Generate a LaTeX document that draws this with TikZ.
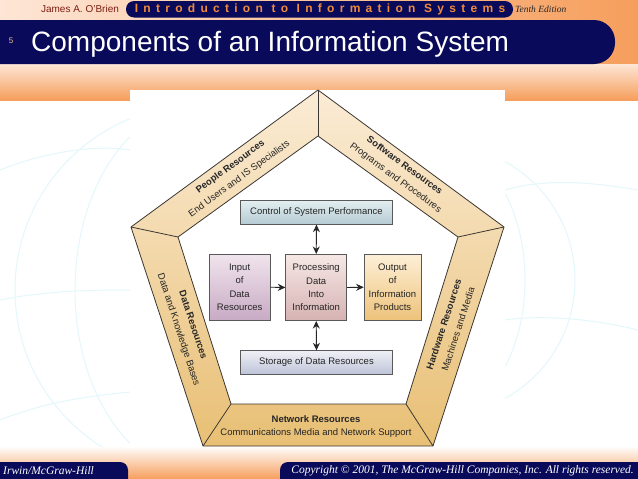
\documentclass[tikz,border=0pt]{standalone}
\usepackage{fontspec}
\setmainfont{Liberation Sans}
\newfontfamily\serifit{Liberation Serif}
\usetikzlibrary{arrows.meta}
\definecolor{navy}{RGB}{10,10,90}
\definecolor{orangeA}{RGB}{246,158,92}
\definecolor{peachA}{RGB}{253,230,214}
\definecolor{pilltext}{RGB}{240,138,60}
\definecolor{maroon}{RGB}{125,30,20}
\definecolor{numcol}{RGB}{245,195,150}
\definecolor{globe}{RGB}{228,247,251}
\definecolor{ringtop}{RGB}{251,236,214}
\definecolor{ringbot}{RGB}{232,191,116}
\definecolor{ringline}{RGB}{60,55,50}
\definecolor{ctrlT}{RGB}{227,238,240}
\definecolor{ctrlB}{RGB}{180,203,211}
\definecolor{inT}{RGB}{240,228,237}
\definecolor{inB}{RGB}{200,170,196}
\definecolor{prT}{RGB}{246,232,230}
\definecolor{prB}{RGB}{214,178,178}
\definecolor{outT}{RGB}{253,240,215}
\definecolor{outB}{RGB}{238,194,122}
\definecolor{stT}{RGB}{239,241,246}
\definecolor{stB}{RGB}{190,196,216}
\tikzset{
  procbox/.style={draw=black!65, line width=0.7pt, inner sep=0pt, align=center,
    font=\fontsize{9.5}{13.3}\selectfont, text=black!85},
  ringtext/.style={align=center, font=\fontsize{9.5}{15}\selectfont, text=black!85, inner sep=0pt},
  flow/.style={-{Stealth[length=7.5pt,width=7pt]}, line width=0.9pt, black!85},
  dflow/.style={{Stealth[length=7.5pt,width=7pt]}-{Stealth[length=7.5pt,width=7pt]}, line width=0.9pt, black!85},
  ringedge/.style={draw=ringline, line width=0.8pt, line join=round},
  globeline/.style={draw=globe, line width=1pt}
}
\begin{document}
\begin{tikzpicture}[x=1pt,y=-1pt]
\useasboundingbox (0,0) rectangle (638,479);
\fill[white] (0,0) rectangle (638,479);
% top background
\shade[left color=peachA, right color=orangeA] (0,0) rectangle (638,64);
\shade[top color=peachA, bottom color=orangeA] (0,64) rectangle (638,100);
% bottom background
\shade[top color=white, bottom color=orangeA] (0,446) rectangle (638,479);
% globe decoration
\begin{scope}
  \clip (0,100) rectangle (130,446);
  \draw[globeline] (200,290) circle[radius=185pt];
  \draw[globeline] (200,290) ellipse[x radius=125pt, y radius=185pt];
  \draw[globeline] (0,170) .. controls (50,150) and (100,145) .. (130,150);
  \draw[globeline] (0,300) .. controls (50,290) and (100,290) .. (130,290);
  \draw[globeline] (0,420) .. controls (50,400) and (100,395) .. (130,392);
\end{scope}
\begin{scope}
  \clip (505,100) rectangle (638,446);
  \draw[globeline] (440,280) circle[radius=135pt];
  \draw[globeline] (440,280) ellipse[x radius=85pt, y radius=135pt];
  \draw[globeline] (505,190) .. controls (540,180) and (580,180) .. (638,190);
  \draw[globeline] (505,320) .. controls (540,315) and (590,318) .. (638,330);
\end{scope}
% picture area
\fill[white] (130,90) rectangle (505,447);
% header
\node[anchor=center, font=\fontsize{10}{12}\selectfont, text=maroon, inner sep=0pt] (author) at (80,9) {James A. O'Brien};
\fill[navy, rounded corners=8pt] (126,1) rectangle (513,17.5);
\node[anchor=center, font=\fontsize{12}{14}\selectfont\bfseries\addfontfeature{LetterSpace=44}, text=pilltext, inner sep=0pt] (book) at (320,9.5) {Introduction to Information Systems};
\node[anchor=west, font=\serifit\itshape\fontsize{9.5}{11}\selectfont, text=black!85, inner sep=0pt] (edition) at (515,9) {Tenth Edition};
\fill[navy, rounded corners=21pt] (-40,20) rectangle (615,64);
\node[anchor=center, font=\fontsize{8}{9}\selectfont, text=numcol, inner sep=0pt] (num) at (11,41) {5};
\node[anchor=base west, font=\fontsize{28}{32}\selectfont, text=white, inner sep=0pt] (title) at (31,52) {Components of an Information System};
% footer
\fill[navy, rounded corners=8pt] (-20,462) rectangle (128,490);
\fill[navy, rounded corners=8pt] (280,462) rectangle (680,490);
\node[anchor=west, font=\serifit\itshape\fontsize{11.5}{13}\selectfont, text=white, inner sep=0pt] (publisher) at (3,471) {Irwin/McGraw-Hill};
\node[anchor=east, font=\serifit\itshape\fontsize{11.5}{13}\selectfont, text=white, inner sep=0pt] (copyright) at (634,471) {Copyright © 2001, The McGraw-Hill Companies, Inc. All rights reserved.};
% pentagon ring
\coordinate (O1) at (318,90);
\coordinate (O2) at (504,227);
\coordinate (O3) at (433,446);
\coordinate (O4) at (203,446);
\coordinate (O5) at (131,227);
\coordinate (I1) at (318,136);
\coordinate (I2) at (458,237);
\coordinate (I3) at (406,404);
\coordinate (I4) at (231,404);
\coordinate (I5) at (178,237);
\shade[top color=ringtop, bottom color=ringbot, even odd rule]
  (O1) -- (O2) -- (O3) -- (O4) -- (O5) -- cycle
  (I1) -- (I2) -- (I3) -- (I4) -- (I5) -- cycle;
\draw[ringedge] (O1) -- (O2) -- (O3) -- (O4) -- (O5) -- cycle;
\draw[ringedge] (I1) -- (I2) -- (I3) -- (I4) -- (I5) -- cycle;
\foreach \k in {1,...,5} { \draw[ringedge] (O\k) -- (I\k); }
% ring labels
\node[ringtext, rotate=36.2] (people) at (235,173) {\textbf{People Resources}\\End Users and IS Specialists};
\node[ringtext, rotate=-36.4] (software) at (400,172) {\textbf{Software Resources}\\Programs and Procedures};
\node[ringtext, rotate=-71.8] (data) at (185.3,327.5) {\textbf{Data Resources}\\Data and Knowledge Bases};
\node[ringtext, rotate=72] (hardware) at (450.9,326.7) {\textbf{Hardware Resources}\\Machines and Media};
\node[ringtext, font=\fontsize{9.5}{13.5}\selectfont] (network) at (316,426.7) {\textbf{Network Resources}\\Communications Media and Network Support};
% inner boxes
\node[procbox, top color=ctrlT, bottom color=ctrlB, minimum width=151.6pt, minimum height=23.6pt] (control) at (316.5,212.5) {Control of System Performance};
\node[procbox, top color=inT, bottom color=inB, minimum width=60.7pt, minimum height=65.7pt] (input) at (239.6,287.2) {Input\\of\\Data\\Resources};
\node[procbox, top color=prT, bottom color=prB, minimum width=61pt, minimum height=66.4pt] (process) at (316.2,287.5) {Processing\\Data\\Into\\Information};
\node[procbox, top color=outT, bottom color=outB, minimum width=57pt, minimum height=66pt] (output) at (392.5,287.2) {Output\\of\\Information\\Products};
\node[procbox, top color=stT, bottom color=stB, minimum width=151.6pt, minimum height=23.3pt] (storage) at (316.5,362.3) {Storage of Data Resources};
% connectors
\draw[flow] (input.east) -- (process.west);
\draw[flow] (process.east) -- (output.west);
\draw[dflow] (control.south) -- (process.north);
\draw[dflow] (process.south) -- (storage.north);
\end{tikzpicture}
\end{document}
